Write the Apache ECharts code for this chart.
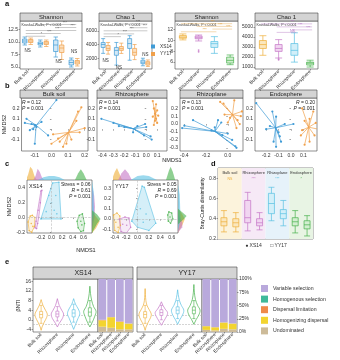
<!DOCTYPE html>
<html><head><meta charset="utf-8">
<script src="https://cdn.jsdelivr.net/npm/echarts@6/dist/echarts.min.js"></script>
<style>html,body{margin:0;padding:0;background:#fff}#c{width:340px;height:360px}</style>
</head><body><div id="c"></div>
<script>
// ================= DATA =================
const compartments = ['Bulk soil','Rhizosphere','Rhizoplane','Endosphere'];
const genotypes = ['XS14','YY17'];
const aTitles = ['Shannon','Chao 1','Shannon','Chao 1'];
// panel a: [min, Q1, median, Q3, max]
const shannonXS14 = [[9.4,9.8,10.2,10.6,11.0],[9.0,9.4,9.7,10.0,10.4],[7.0,8.1,9.4,10.4,11.0],[5.0,5.4,5.9,6.4,6.8]];
const shannonYY17 = [[9.5,9.9,10.2,10.5,10.8],[9.1,9.5,9.8,10.1,10.4],[6.5,7.9,8.8,9.4,10.2],[5.2,5.6,6.0,6.3,6.7]];
const chaoXS14 = [[2710,3570,4000,4290,4860],[1000,2430,3140,3570,4300],[1710,3430,4140,4860,5290],[900,1200,1430,1710,2000]];
const chaoYY17 = [[2600,3140,3430,3860,4300],[2700,3140,3400,3710,4200],[1800,2430,2860,3430,4000],[800,1000,1290,1500,1750]];
const shannonAll = [[10.1,10.4,10.6,10.9,11.2],[9.9,10.3,10.5,10.8,11.0],[7.6,8.7,9.4,9.8,10.7],[5.5,5.8,6.3,6.9,7.3]];
const chaoAll = [[2170,2850,3240,3640,4120],[1900,2560,2850,3240,3730],[1490,2170,2660,3340,4410],[1000,1200,1390,1490,1680]];
const shannonAllOut = [[1,8.2],[1,7.9]];
const chaoAllOut = [[1,1800],[1,1720]];
const shannonTicks = [5,7.5,10,12.5];
const chaoTicks = [2000,4000,6000];
const shannon2Ticks = [6,8,10,12];
const chao2Ticks = [1000,2000,3000,4000,5000];
const kwText = 'Kruskal-Wallis, P < 0.001';
// significance brackets [from, to, y, label]
const sigShannon = [[1,3,13.5,'***'],[2,3,12.9,'***'],[0,3,12.3,'***'],[0,2,11.7,'***'],[0,1,11.15,'*']];
const sigChao = [[1,3,7000,'***'],[2,3,6450,'***'],[0,3,6000,'***'],[0,2,5550,'***'],[0,1,5150,'*']];
const sigShannon2 = [[0,3,13.1,'***'],[1,3,12.6,'***'],[2,3,12.1,'***'],[0,2,11.6,'***']];
const sigChao2 = [[0,3,5300,'***'],[1,3,5000,'***'],[2,3,4700,'***'],[1,2,4450,'NS']];
const nsShannon = [[0,8.3,'NS'],[2,6.0,'NS'],[3,8.0,'NS']];
const nsChao = [[0,1700,'NS'],[1,600,'NS'],[3,2450,'NS']];

// panel b: NMDS points per compartment [XS14, YY17]
const bStats = [['0.12','0.001'],['0.14','0.001'],['0.13','0.001'],['0.20','0.001']];
const bBulkXS14 = [[0.03,0.28],[-0.15,0.10],[-0.16,0.06],[-0.12,0.05],[-0.10,0.04],[-0.09,0.02],[-0.11,0.00],[-0.13,-0.01],[-0.10,-0.14],[-0.02,-0.06],[-0.06,0.07]];
const bBulkYY17 = [[0.18,0.21],[0.16,0.17],[0.15,0.08],[0.20,0.01],[0.17,-0.03],[0.01,-0.05],[0.00,-0.14],[0.07,-0.17],[0.09,-0.14],[0.12,-0.10],[0.04,-0.09],[0.05,-0.12]];
const bRhsXS14 = [[-0.41,0.10],[-0.30,0.06],[-0.25,0.03],[-0.20,0.02],[-0.08,0.03],[-0.01,0.05],[0.00,0.02],[0.05,-0.10],[0.04,-0.07],[-0.02,-0.06],[-0.12,-0.03]];
const bRhsYY17 = [[0.06,0.27],[0.09,0.24],[0.07,0.20],[0.10,0.18],[0.08,0.15],[0.11,0.13],[0.06,0.12],[0.09,0.10],[0.08,0.08],[0.10,0.06],[0.07,0.04]];
const bRhpXS14 = [[-0.42,-0.05],[-0.32,0.05],[-0.40,-0.02],[-0.09,0.05],[-0.06,0.02],[-0.12,-0.04],[0.00,-0.12],[0.04,-0.20],[0.08,-0.30],[0.07,-0.28],[-0.05,-0.14],[-0.15,-0.08]];
const bRhpYY17 = [[-0.07,0.28],[-0.04,0.26],[0.06,0.30],[0.13,0.16],[0.12,0.10],[0.09,0.05],[0.11,0.00],[0.08,-0.05],[0.00,0.02],[-0.03,0.12],[0.02,0.08]];
const bEndXS14 = [[-0.28,0.25],[-0.15,0.17],[-0.12,0.12],[-0.17,0.03],[-0.20,0.00],[-0.05,0.05],[0.02,0.05],[-0.09,-0.07],[-0.12,-0.17],[-0.14,-0.12],[-0.08,-0.12],[-0.10,-0.03]];
const bEndYY17 = [[0.09,0.20],[0.18,0.17],[0.15,0.10],[0.20,0.06],[0.22,0.00],[0.19,-0.06],[0.15,-0.12],[0.11,-0.15],[0.08,-0.06],[0.09,-0.01],[0.11,0.08]];
const b1XTicks=[-0.1,0,0.1,0.2], b2XTicks=[-0.4,-0.3,-0.2,-0.1,0,0.1], b3XTicks=[-0.4,-0.2,0], b4XTicks=[-0.2,-0.1,0,0.1];
const bYTicks=[-0.1,0,0.1,0.2], b3YTicks=[-0.3,-0.2,-0.1,0,0.1,0.2];

// panel c: NMDS points by compartment
const cStats = [['0.06','0.61','0.001'],['0.05','0.69','0.001']];
const cXS14 = [
  [[-0.44,-0.06],[-0.42,-0.18],[-0.37,-0.20],[-0.32,-0.12],[-0.31,0.00],[-0.36,0.03],[-0.40,0.02],[-0.38,-0.08],[-0.35,-0.12]],
  [[-0.31,-0.14],[-0.28,-0.15],[-0.24,0.00],[-0.21,0.20],[-0.18,0.37],[-0.20,0.36],[-0.25,0.10],[-0.29,-0.05],[-0.26,-0.08]],
  [[-0.20,-0.02],[0.18,-0.02],[0.14,0.48],[0.02,0.47],[-0.05,0.30],[0.05,0.10],[0.00,0.20],[0.10,0.05],[-0.10,0.08],[0.08,0.30]],
  [[0.48,-0.05],[0.52,0.03],[0.58,0.05],[0.62,-0.08],[0.60,-0.18],[0.55,-0.19],[0.50,-0.14],[0.55,-0.05],[0.57,-0.10]]
];
const cYY17 = [
  [[-0.42,0.04],[-0.40,-0.11],[-0.34,-0.13],[-0.30,-0.06],[-0.31,0.03],[-0.36,0.06],[-0.38,-0.03],[-0.34,-0.08]],
  [[-0.32,0.00],[-0.29,-0.12],[-0.20,-0.14],[-0.12,-0.08],[-0.15,0.01],[-0.22,0.02],[-0.26,-0.05],[-0.19,-0.06]],
  [[-0.10,-0.02],[0.08,0.32],[0.12,0.31],[0.32,-0.04],[0.20,-0.11],[0.00,-0.08],[0.05,0.10],[0.15,0.05],[0.10,-0.03]],
  [[0.53,0.04],[0.55,0.07],[0.60,0.06],[0.62,0.00],[0.58,-0.04],[0.54,-0.02],[0.57,0.02]]
];
// marginal densities: top [x, density], right [y, density]
const cTopXS14 = [
  [[-0.48,0],[-0.44,0.4],[-0.40,1.0],[-0.36,0.8],[-0.32,0.3],[-0.28,0]],
  [[-0.34,0],[-0.30,0.3],[-0.26,0.85],[-0.22,0.6],[-0.18,0.2],[-0.14,0]],
  [[-0.25,0],[-0.15,0.2],[-0.05,0.3],[0.05,0.3],[0.15,0.2],[0.25,0]],
  [[0.44,0],[0.50,0.5],[0.55,0.8],[0.60,0.5],[0.66,0]]
];
const cRightXS14 = [
  [[-0.21,0],[-0.15,0.45],[-0.05,0.9],[0.02,0.4],[0.08,0]],
  [[-0.15,0],[0.0,0.3],[0.15,0.35],[0.30,0.25],[0.42,0]],
  [[-0.05,0],[0.05,0.25],[0.20,0.2],[0.35,0.2],[0.50,0]],
  [[-0.21,0],[-0.08,0.6],[-0.02,1.0],[0.04,0.6],[0.10,0]]
];
const cTopYY17 = [
  [[-0.45,0],[-0.40,0.6],[-0.36,0.9],[-0.32,0.5],[-0.27,0]],
  [[-0.34,0],[-0.28,0.5],[-0.22,0.8],[-0.16,0.5],[-0.10,0]],
  [[-0.12,0],[0.0,0.3],[0.10,0.35],[0.20,0.3],[0.34,0]],
  [[0.50,0],[0.55,0.7],[0.58,1.0],[0.62,0.6],[0.66,0]]
];
const cRightYY17 = [
  [[-0.13,0],[-0.06,0.5],[0.0,0.8],[0.06,0.4],[0.10,0]],
  [[-0.13,0],[-0.08,0.5],[-0.03,0.5],[0.02,0.2],[0.05,0]],
  [[-0.12,0],[0.0,0.3],[0.12,0.25],[0.24,0.2],[0.34,0]],
  [[-0.05,0],[0.0,0.7],[0.03,1.0],[0.06,0.6],[0.10,0]]
];
const c1XTicks=[-0.2,0,0.2,0.4,0.6], c1YTicks=[-0.2,0,0.2,0.4];
const c2XTicks=[-0.4,-0.2,0,0.2,0.4,0.6], c2YTicks=[-0.1,0,0.1,0.2,0.3];

// panel d: Bray-Curtis [min,Q1,median,Q3,max]
const dXS14 = [[0.27,0.33,0.37,0.41,0.48],[0.28,0.36,0.41,0.58,0.66],[0.38,0.45,0.55,0.65,0.71],[0.26,0.33,0.37,0.41,0.48]];
const dYY17 = [[0.27,0.32,0.36,0.40,0.46],[0.29,0.33,0.36,0.40,0.46],[0.33,0.40,0.45,0.49,0.58],[0.23,0.30,0.34,0.38,0.43]];
const dSig = ['NS','***','***','*'];
const dTicks = [0.2,0.4,0.6,0.8];

// panel e: violin profiles [betaNTI, relative width]
const eVioXS14 = [
  [[-4.4,0],[-3,0.15],[-1,0.5],[1,0.9],[2.4,1],[4,0.7],[6,0.3],[7.5,0.1],[8.4,0]],
  [[-3,0],[-1.5,0.3],[0.5,0.8],[2.4,1],[4,0.7],[6,0.3],[8.8,0]],
  [[-4,0],[-2,0.3],[0.5,0.7],[2.5,1],[4.5,0.75],[6.5,0.3],[8.8,0]],
  [[-3,0],[-1,0.4],[1.5,0.8],[3.5,1],[5.5,0.6],[8,0.3],[11,0.1],[14,0]]
];
const eVioYY17 = [
  [[-4.4,0],[-3,0.15],[-1,0.5],[1,0.9],[2.4,1],[4,0.7],[6,0.3],[8,0.12],[10.5,0.05],[13,0]],
  [[-2.3,0],[-0.5,0.4],[1.5,0.85],[3,1],[4.5,0.6],[6,0.25],[7.5,0]],
  [[-1.9,0],[0,0.35],[2,0.8],[4,1],[6,0.6],[8,0.3],[10.5,0.1],[12.5,0]],
  [[-1.9,0],[0,0.35],[2,0.8],[4,1],[6,0.6],[8.5,0.25],[11.5,0.08],[14.7,0]]
];
const eBoxXS14 = [[-1.5,0.8,2.2,3.5,6],[-0.5,1.2,2.4,3.6,5.5],[-1,1.2,2.8,4.2,6.5],[-1,1.5,3.2,5,8]];
const eBoxYY17 = [[-1.5,0.8,2.2,3.4,6],[0,1.8,3,4.2,6],[0.5,2.5,4,5.4,8],[0.5,2.5,4,5.4,8]];
const eTicks = [-4,0,4,8,12,16];
const pctTicks = [0,25,50,75,100];
const processes = ['Variable selection','Homogenous selection','Dispersal limitation','Homogenizing dispersal','Undominated'];
// percentages per compartment, order as processes
const procXS14 = [[77,72,80,84],[0,0,0,0],[1,0,1,0],[12,20,14,11],[10,8,5,5]];
const procYY17 = [[89,91,82,84],[0,0,0,0],[0,0,0,0],[7,6,12,11],[4,3,6,5]];

// ================= STYLE =================
const FONT = 'Liberation Sans, Arial, sans-serif';
const blue = '#3f9bd6', blueL = '#d3e9f7', orange = '#f0a04a', orangeL = '#fbe0c0';
const comColors = ['#eeae36','#c474c6','#58c0e2','#45b04a'];
const comLight = ['#fbe7bd','#f1d6f1','#d2eff9','#d2eed0'];
const bgColors = ['#fcf3dc','#f6e9f6','#e6f2fa','#e8f4e4'];
const procColors = ['#b9a9dc','#3fb99a','#ef8a4a','#f3d42f','#cdbb99'];

const grids=[], xAxes=[], yAxes=[], series=[], graphics=[];
function addGrid(g, xa, ya){
  const i = grids.length;
  grids.push(Object.assign({show:true, borderColor:'#444', borderWidth:0.6, backgroundColor:'#fff'}, g));
  xAxes.push(Object.assign({gridIndex:i}, xa));
  yAxes.push(Object.assign({gridIndex:i}, ya));
  return i;
}
function fmt1(v){ return (Math.abs(v)<1e-9?0:v).toFixed(1); }
function valAxis(min,max,ticks,extra,formatter){
  return Object.assign({type:'value', min, max, splitLine:{show:false}, axisLine:{show:false},
    axisTick:{show:!!ticks, length:1.5, lineStyle:{color:'#444', width:0.5}, customValues:ticks||[]},
    axisLabel:{show:!!ticks, fontSize:5, color:'#333', margin:2, fontFamily:FONT, customValues:ticks||[], formatter:formatter||(v=>String(v))}}, extra||{});
}
function catAxis(data, extra){
  return Object.assign({type:'category', data, axisLine:{show:false},
    axisTick:{show:true, length:1.5, alignWithLabel:true, lineStyle:{color:'#444', width:0.5}},
    axisLabel:{fontSize:4.8, color:'#333', rotate:45, margin:2, fontFamily:FONT, interval:0},
    splitLine:{show:false}}, extra||{});
}
function header(x,y,w,h,text,fs){
  graphics.push({type:'rect', shape:{x,y,width:w,height:h}, style:{fill:'#d4d4d4', stroke:'#444', lineWidth:0.6}});
  graphics.push({type:'text', x:x+w/2, y:y+h/2+0.3, style:{text, align:'center', verticalAlign:'middle', fontSize:fs||6, fill:'#222', fontFamily:FONT}});
}
function gtext(x,y,text,opt){
  graphics.push({type:'text', x, y, style:Object.assign({text, fontSize:5, fill:'#222', fontFamily:FONT, align:'left', verticalAlign:'middle'}, opt||{})});
}
function textSeries(gi, items, style){
  return {type:'custom', xAxisIndex:gi, yAxisIndex:gi, silent:true, clip:false, z:5,
    data: items.map(t=>[t[0],t[1]]),
    renderItem(p, api){ const t=items[p.dataIndex]; const c=api.coord([t[0],t[1]]);
      return {type:'text', x:c[0], y:c[1], style:Object.assign({text:t[2], align:'center', verticalAlign:'middle', fontSize:4.2, fill:'#333', fontFamily:FONT}, style||{})}; }};
}
function bracketSeries(gi, items, color){
  return {type:'custom', xAxisIndex:gi, yAxisIndex:gi, silent:true, clip:false, z:5,
    data: items.map(t=>[t[0],t[2]]),
    renderItem(p, api){ const t=items[p.dataIndex]; const a=api.coord([t[0],t[2]]), b=api.coord([t[1],t[2]]);
      return {type:'group', children:[
        {type:'line', shape:{x1:a[0]-2,y1:a[1],x2:b[0]+2,y2:b[1]}, style:{stroke:color||'#777', lineWidth:0.4}},
        {type:'text', x:(a[0]+b[0])/2+6, y:a[1]+0.2, style:{text:t[3], align:'center', verticalAlign:'bottom', fontSize:3.6, fill:color||'#555', fontFamily:FONT}}]}; }};
}
function polySeries(xi, yi, pts, fill, stroke, lw, z){
  return {type:'custom', xAxisIndex:xi, yAxisIndex:yi, silent:true, clip:true, z:z||2, data:pts,
    renderItem(p, api){ if(p.dataIndex!==0) return;
      const P = pts.map(d=>api.coord(d));
      return {type:'polygon', shape:{points:P}, style:{fill, stroke:stroke||'none', lineWidth:lw||0.5}}; }};
}
function mean(a){ return a.reduce((s,v)=>s+v,0)/a.length; }
function spider(gi, pts, color){
  const cx = mean(pts.map(p=>p[0])), cy = mean(pts.map(p=>p[1]));
  return {type:'custom', xAxisIndex:gi, yAxisIndex:gi, silent:true, clip:true, data:pts,
    renderItem(p, api){ const c=api.coord([cx,cy]); const q=api.coord([api.value(0),api.value(1)]);
      return {type:'group', children:[
        {type:'line', shape:{x1:c[0],y1:c[1],x2:q[0],y2:q[1]}, style:{stroke:color, lineWidth:0.7}},
        {type:'circle', shape:{cx:q[0],cy:q[1],r:1.1}, style:{fill:color}}]}; }};
}
function hull(pts){
  const p = pts.slice().sort((a,b)=>a[0]-b[0]||a[1]-b[1]);
  const cr=(o,a,b)=>(a[0]-o[0])*(b[1]-o[1])-(a[1]-o[1])*(b[0]-o[0]);
  const lo=[]; for(const q of p){ while(lo.length>=2&&cr(lo[lo.length-2],lo[lo.length-1],q)<=0) lo.pop(); lo.push(q); }
  const up=[]; for(let i=p.length-1;i>=0;i--){ const q=p[i]; while(up.length>=2&&cr(up[up.length-2],up[up.length-1],q)<=0) up.pop(); up.push(q); }
  lo.pop(); up.pop(); return lo.concat(up);
}
function hexA(h,a){ const n=parseInt(h.slice(1),16); return `rgba(${n>>16},${(n>>8)&255},${n&255},${a})`; }

// ================= PANEL a =================
const gA1 = addGrid({left:20, top:21, width:62, height:48}, catAxis(compartments), valAxis(4.6,14.2,shannonTicks,{},fmt1));
const gA2 = addGrid({left:99, top:21, width:53, height:48}, catAxis(compartments), valAxis(430,7430,chaoTicks));
const gA3 = addGrid({left:175, top:21, width:63, height:48}, catAxis(compartments), valAxis(4.7,13.6,shannon2Ticks));
const gA4 = addGrid({left:255, top:21, width:63, height:48}, catAxis(compartments), valAxis(805,5585,chao2Ticks));
[[gA1,shannonXS14,shannonYY17],[gA2,chaoXS14,chaoYY17]].forEach(([g,x,y])=>{
  series.push({type:'boxplot', name:genotypes[0], xAxisIndex:g, yAxisIndex:g, data:x, boxWidth:[4,5], itemStyle:{color:blueL, borderColor:blue, borderWidth:0.7}});
  series.push({type:'boxplot', name:genotypes[1], xAxisIndex:g, yAxisIndex:g, data:y, boxWidth:[4,5], itemStyle:{color:orangeL, borderColor:orange, borderWidth:0.7}});
});
[[gA3,shannonAll,shannonAllOut],[gA4,chaoAll,chaoAllOut]].forEach(([g,d,o])=>{
  series.push({type:'boxplot', xAxisIndex:g, yAxisIndex:g, boxWidth:[6,7],
    data:d.map((v,i)=>({value:v, itemStyle:{color:comLight[i], borderColor:comColors[i], borderWidth:0.7}}))});
  series.push({type:'scatter', xAxisIndex:g, yAxisIndex:g, data:o, symbolSize:1.8, itemStyle:{color:comColors[1]}, silent:true});
});
series.push(bracketSeries(gA1, sigShannon), bracketSeries(gA2, sigChao), bracketSeries(gA3, sigShannon2,'#e0a040'), bracketSeries(gA4, sigChao2,'#b070c0'));
series.push(textSeries(gA1, nsShannon, {fontSize:4.5}), textSeries(gA2, nsChao, {fontSize:4.5}));
aTitles.forEach((t,i)=>{ const g=grids[[gA1,gA2,gA3,gA4][i]]; header(g.left, 13, g.width, 8, t, 6);
  gtext(g.left+1.5, 24.5, kwText, {fontSize:3.6, fill:'#333'}); });

// ================= PANEL b =================
const bY = (ticks)=>valAxis(-0.21,0.3,ticks,{},fmt1);
const gB1 = addGrid({left:20, top:98, width:68, height:53}, valAxis(-0.18,0.22,b1XTicks,{},fmt1), Object.assign(bY(bYTicks),{name:'NMDS2', nameLocation:'middle', nameGap:11, nameTextStyle:{fontSize:5.5, color:'#222', fontFamily:FONT}}));
const gB2 = addGrid({left:97, top:98, width:70, height:53}, valAxis(-0.45,0.19,b2XTicks,{},fmt1), bY(bYTicks));
const gB3 = addGrid({left:180, top:98, width:63, height:53}, valAxis(-0.44,0.14,b3XTicks,{},fmt1), valAxis(-0.34,0.33,b3YTicks,{},fmt1));
const gB4 = addGrid({left:255, top:98, width:62, height:53}, valAxis(-0.29,0.21,b4XTicks,{},fmt1), bY(bYTicks));
[[gB1,bBulkXS14,bBulkYY17],[gB2,bRhsXS14,bRhsYY17],[gB3,bRhpXS14,bRhpYY17],[gB4,bEndXS14,bEndYY17]].forEach(([g,x,y],i)=>{
  series.push(spider(g,x,blue), spider(g,y,orange));
  const G = grids[g];
  const right = i===3;
  const tx = right ? G.left+G.width-2 : G.left+2;
  graphics.push({type:'text', x:tx, y:99.5, style:{text:'{i|R} = '+bStats[i][0]+'\n{i|P} = '+bStats[i][1], align:right?'right':'left', verticalAlign:'top', fontSize:5, lineHeight:6, fill:'#222', fontFamily:FONT, rich:{i:{fontStyle:'italic', fontSize:5, fontFamily:FONT}}}});
  header(G.left, 90, G.width, 8, compartments[i], 6);
});
gtext(172, 160, 'NMDS1', {align:'center', fontSize:5.5});

// ================= PANEL c =================
function panelC(left, xr, yr, xt, yt, groups, tops, rights, stats, label, withName){
  const g = addGrid({left, top:180, width:65, height:53}, valAxis(xr[0],xr[1],xt,{},fmt1),
    Object.assign(valAxis(yr[0],yr[1],yt,{},fmt1), withName?{name:'NMDS2', nameLocation:'middle', nameGap:13, nameTextStyle:{fontSize:5.5, color:'#222', fontFamily:FONT}}:{}));
  const gt = addGrid({left, top:166, width:65, height:14, show:false}, valAxis(xr[0],xr[1],null,{show:false}), valAxis(0,1.05,null,{show:false}));
  const gr = addGrid({left:left+65, top:180, width:9, height:53, show:false}, valAxis(0,1.05,null,{show:false}), valAxis(yr[0],yr[1],null,{show:false}));
  groups.forEach((pts,i)=>{
    series.push(polySeries(g,g,hull(pts), hexA(comColors[i], i===2?0.25:0.15), comColors[i], 0.6, 3));
    series.push({type:'scatter', xAxisIndex:g, yAxisIndex:g, data:pts, symbolSize:1.6, itemStyle:{color:comColors[i]}, z:4, silent:true});
    series.push(polySeries(gt,gt,tops[i], hexA(comColors[i],0.6), 'none', 0, 2));
    series.push(polySeries(gr,gr,rights[i].map(p=>[p[1],p[0]]), hexA(comColors[i],0.6), 'none', 0, 2));
  });
  series.push({type:'scatter', xAxisIndex:g, yAxisIndex:g, data:[], markLine:{silent:true, symbol:'none', label:{show:false},
    lineStyle:{color:'#bbb', type:'dashed', width:0.6}, data:[{yAxis:0},{xAxis:0}]}});
  const G = grids[g];
  gtext(G.left+2, 186, label, {fontSize:5.5});
  graphics.push({type:'text', x:G.left+G.width-1.5, y:181.5, style:{text:'Stress = '+stats[0]+'\n{i|R} = '+stats[1]+'\n{i|P} = '+stats[2], align:'right', verticalAlign:'top', fontSize:5, lineHeight:6, fill:'#222', fontFamily:FONT, rich:{i:{fontStyle:'italic', fontSize:5, fontFamily:FONT}}}});
}
panelC(27, [-0.46,0.76], [-0.21,0.51], c1XTicks, c1YTicks, cXS14, cTopXS14, cRightXS14, cStats[0], 'XS14', true);
panelC(113, [-0.43,0.71], [-0.135,0.38], c2XTicks, c2YTicks, cYY17, cTopYY17, cRightYY17, cStats[1], 'YY17', false);
gtext(86, 250, 'NMDS1', {align:'center', fontSize:5.5});

// ================= PANEL e =================
function violinSeries(gi, profiles){
  return {type:'custom', xAxisIndex:gi, yAxisIndex:gi, silent:true, z:2, data:profiles.map((p,i)=>[i,0]),
    renderItem(params, api){ const i=params.dataIndex; const bw=api.size([1,0])[0]; const cx=api.coord([i,0])[0];
      const L=[], R=[];
      profiles[i].forEach(([v,d])=>{ const y=api.coord([i,v])[1]; L.push([cx-d*0.38*bw,y]); R.push([cx+d*0.38*bw,y]); });
      return {type:'polygon', shape:{points:L.concat(R.reverse()), smooth:0.35}, style:{fill:'#fff', stroke:comColors[i], lineWidth:0.7}}; }};
}
function panelE(left, profiles, boxes, procs, title, showY, showPct){
  const gv = addGrid({left, top:279, width:65, height:53}, catAxis(compartments),
    Object.assign(valAxis(-5.1,17,showY?eTicks:null,{}), showY?{name:'\u03B2NTI', nameLocation:'middle', nameGap:10, nameTextStyle:{fontSize:5.5, color:'#222', fontFamily:FONT}}:{}));
  series.push(violinSeries(gv, profiles));
  series.push({type:'boxplot', xAxisIndex:gv, yAxisIndex:gv, boxWidth:[3,3], z:3,
    data:boxes.map((b,i)=>({value:b, itemStyle:{color:'rgba(255,255,255,0.5)', borderColor:comColors[i], borderWidth:0.6}})),
    markLine:{silent:true, symbol:'none', label:{show:false}, lineStyle:{color:'#aaa', type:'dashed', width:0.5}, data:[{yAxis:2},{yAxis:-2}], z:1}});
  const gb = addGrid({left:left+65, top:279, width:35, height:53}, catAxis(compartments),
    Object.assign(valAxis(0,100,showPct?pctTicks:null,{}, v=>v+'%'), {position:'right'}));
  const order = [4,3,2,1,0];
  order.forEach(k=>{
    series.push({type:'bar', name:processes[k], xAxisIndex:gb, yAxisIndex:gb, stack:'s'+gb, barCategoryGap:'12%', data:procs[k], itemStyle:{color:procColors[k]}});
  });
  header(left, 267, 100, 12, title, 7);
}
panelE(33, eVioXS14, eBoxXS14, procXS14, 'XS14', true, false);
panelE(137, eVioYY17, eBoxYY17, procYY17, 'YY17', false, true);

// ================= PANEL d =================
const dCats = []; compartments.forEach(c=>genotypes.forEach(g=>dCats.push(c+' '+g)));
const gD = addGrid({left:218, top:168, width:95, height:71},
  catAxis(dCats,{axisLabel:{show:false}, axisTick:{show:false}}),
  Object.assign(valAxis(0.2,0.9,dTicks,{},fmt1), {name:'Bray-Curtis dissimilarity', nameLocation:'middle', nameGap:10, nameTextStyle:{fontSize:5, color:'#222', fontFamily:FONT}}));
// extra hidden category axis (one band per compartment) — pushed after all grids so indices stay aligned
xAxes.push({gridIndex:gD, type:'category', data:compartments, show:false});
const dBgAxis = xAxes.length-1;
series.push({type:'bar', xAxisIndex:dBgAxis, yAxisIndex:gD, barCategoryGap:'0%', silent:true, z:1,
  data: compartments.map((c,i)=>({value:0.9, itemStyle:{color:bgColors[i]},
    label:{show:true, position:'insideTop', distance:2, formatter:'{h|'+c+'}\n{s|'+dSig[i]+'}',
      rich:{h:{fontSize:4.0, color:'#333', fontFamily:FONT, lineHeight:6.5}, s:{fontSize:3.5, color:comColors[i], fontFamily:FONT, lineHeight:5}}}}))});
const dData = []; compartments.forEach((c,i)=>{
  dData.push({value:dXS14[i], itemStyle:{color:comLight[i], borderColor:comColors[i], borderWidth:0.7}});
  dData.push({value:dYY17[i], itemStyle:{color:comLight[i], borderColor:comColors[i], borderWidth:0.7}});
});
series.push({type:'boxplot', xAxisIndex:gD, yAxisIndex:gD, data:dData, boxWidth:[5,6], z:3});
graphics.push({type:'text', x:266, y:245.5, style:{text:'\u25CF XS14      \u25A1 YY17', align:'center', verticalAlign:'middle', fontSize:5, fill:'#333', fontFamily:FONT}});

// panel letters
[['a',5,4],['b',5,86],['c',5,164],['d',211,164],['e',5,262]].forEach(([t,x,y])=>gtext(x,y,t,{fontSize:7.5, fontWeight:'bold', fill:'#111'}));

const option = {
  animation:false, textStyle:{fontFamily:FONT},
  grid:grids, xAxis:xAxes, yAxis:yAxes, series, graphic:graphics,
  legend:[
    {left:146, top:39, orient:'vertical', itemWidth:4, itemHeight:4, itemGap:2.5, icon:'rect', selectedMode:false,
     textStyle:{fontSize:4.8, color:'#333', fontFamily:FONT},
     data:[{name:genotypes[0], itemStyle:{color:blue, borderWidth:0}},{name:genotypes[1], itemStyle:{color:orange, borderWidth:0}}]},
    {left:256, top:280, orient:'vertical', itemWidth:7, itemHeight:7, itemGap:3.6, icon:'rect', selectedMode:false,
     textStyle:{fontSize:5.2, color:'#333', fontFamily:FONT},
     data:processes}
  ]
};
const chart = echarts.init(document.getElementById('c'), null, {renderer:'canvas'});
chart.setOption(option);
</script></body></html>
